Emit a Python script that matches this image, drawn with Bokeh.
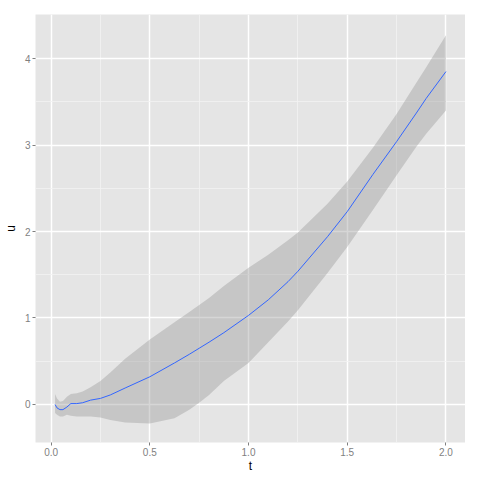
from bokeh.plotting import figure
from bokeh.models import FixedTicker, Range1d
from bokeh.embed import file_html
from bokeh.resources import INLINE

# data
t = [0.02, 0.03, 0.045, 0.06, 0.08, 0.10, 0.13, 0.16, 0.20, 0.25, 0.30, 0.375,
     0.50, 0.625, 0.70, 0.75, 0.80, 0.875, 1.00, 1.10, 1.20, 1.25, 1.40, 1.50,
     1.63, 1.75, 1.85, 1.90, 2.00]
u = [0.00, -0.04, -0.06, -0.06, -0.03, 0.01, 0.01, 0.02, 0.05, 0.07, 0.11, 0.19,
     0.32, 0.48, 0.58, 0.65, 0.72, 0.83, 1.03, 1.21, 1.42, 1.54, 1.94, 2.23,
     2.66, 3.04, 3.37, 3.54, 3.85]
lo = [-0.10, -0.12, -0.14, -0.14, -0.12, -0.13, -0.14, -0.14, -0.14, -0.15, -0.18, -0.21,
      -0.22, -0.16, -0.06, 0.02, 0.11, 0.27, 0.48, 0.72, 0.96, 1.09, 1.52, 1.82,
      2.25, 2.65, 2.98, 3.13, 3.40]
hi = [0.12, 0.07, 0.03, 0.04, 0.09, 0.12, 0.13, 0.15, 0.20, 0.27, 0.37, 0.53,
      0.75, 0.95, 1.07, 1.15, 1.23, 1.37, 1.58, 1.73, 1.90, 1.99, 2.32, 2.58,
      2.97, 3.36, 3.72, 3.90, 4.27]

x_ticks = [0.0, 0.5, 1.0, 1.5, 2.0]
x_minor = [0.25, 0.75, 1.25, 1.75]
x_labels = {0.0: "0.0", 0.5: "0.5", 1.0: "1.0", 1.5: "1.5", 2.0: "2.0"}
y_ticks = [0, 1, 2, 3, 4]
y_minor = [0.5, 1.5, 2.5, 3.5]
y_labels = {0: "0", 1: "1", 2: "2", 3: "3", 4: "4"}

p = figure(frame_width=430, frame_height=428, output_backend="svg", toolbar_location=None,
           x_range=Range1d(-0.079, 2.099), y_range=Range1d(-0.44, 4.51),
           min_border_left=33, min_border_right=0, min_border_top=14, min_border_bottom=22)

p.background_fill_color = "#E5E5E5"
p.border_fill_color = "white"
p.outline_line_color = None

p.varea(x=t, y1=lo, y2=hi, fill_color="#999999", fill_alpha=0.4)
p.line(x=t, y=u, line_color="#3366FF", line_width=1)

p.xaxis.ticker = FixedTicker(ticks=x_ticks, minor_ticks=x_minor)
p.yaxis.ticker = FixedTicker(ticks=y_ticks, minor_ticks=y_minor)
p.xaxis.major_label_overrides = x_labels
p.yaxis.major_label_overrides = y_labels

for ax in (p.xaxis, p.yaxis):
    ax.axis_line_color = None
    ax.major_tick_line_color = "#7F7F7F"
    ax.major_tick_in = 0
    ax.major_tick_out = 3
    ax.minor_tick_line_color = None
    ax.major_label_text_color = "#7F7F7F"
    ax.major_label_text_font = "Liberation Sans"
    ax.major_label_text_font_size = "10px"
    ax.major_label_standoff = 1
    ax.axis_label_text_font = "Liberation Sans"
    ax.axis_label_text_font_size = "12px"
    ax.axis_label_text_font_style = "normal"
    ax.axis_label_text_color = "black"
    ax.axis_label_standoff = 0

p.yaxis.axis_label_standoff = 4
p.xaxis.axis_label = "t"
p.yaxis.axis_label = "u"

for g in (p.xgrid, p.ygrid):
    g.grid_line_color = "white"
    g.grid_line_width = 1.5
    g.minor_grid_line_color = "#F2F2F2"
    g.minor_grid_line_width = 0.8

open("out.html", "w").write(file_html(p, INLINE))
